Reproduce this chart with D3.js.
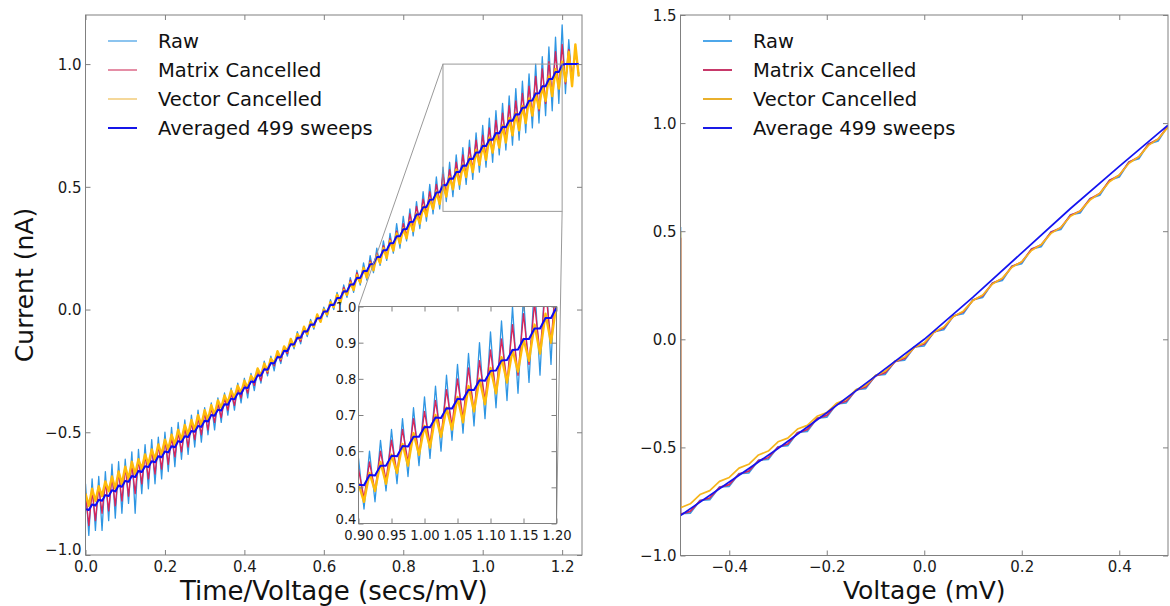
<!DOCTYPE html>
<html lang="en">
<head>
<meta charset="UTF-8">
<title>Sweep cancellation</title>
<script src="https://d3js.org/d3.v7.min.js"></script>
<style>
  body { margin: 0; background: #fff; }
  svg { display: block; font-family: "DejaVu Sans", sans-serif; }
  .legend-text { font-size: 19.5px; fill: #111; }
  .axis-label { font-size: 25px; fill: #111; }
</style>
</head>
<body>
<svg width="1170" height="606"></svg>
<script>
// ---- left panel: current per half sweep period (1/120 s apart) ----
const sweepStep = 1 / 120;
const rawSweep = [
  -0.71, -0.92, -0.69, -0.90, -0.68, -0.90, -0.66, -0.86, -0.63, -0.85,
  -0.62, -0.83, -0.61, -0.79, -0.58, -0.83, -0.57, -0.75, -0.55, -0.73,
  -0.53, -0.71, -0.52, -0.69, -0.50, -0.66, -0.48, -0.64, -0.46, -0.61,
  -0.45, -0.59, -0.43, -0.56, -0.41, -0.54, -0.40, -0.51, -0.38, -0.49,
  -0.36, -0.46, -0.34, -0.43, -0.32, -0.41, -0.30, -0.38, -0.28, -0.36,
  -0.26, -0.33, -0.24, -0.30, -0.21, -0.27, -0.19, -0.25, -0.17, -0.22,
  -0.15, -0.19, -0.12, -0.16, -0.09, -0.14, -0.07, -0.11, -0.04, -0.08,
  -0.02, -0.05, 0.01, -0.03, 0.04, 0.00, 0.07, 0.02, 0.10, 0.05,
  0.13, 0.07, 0.16, 0.10, 0.19, 0.12, 0.22, 0.15, 0.25, 0.18,
  0.28, 0.20, 0.31, 0.23, 0.35, 0.25, 0.38, 0.28, 0.41, 0.30,
  0.44, 0.33, 0.48, 0.36, 0.51, 0.39, 0.54, 0.41, 0.58, 0.44,
  0.60, 0.46, 0.63, 0.49, 0.66, 0.51, 0.69, 0.53, 0.72, 0.56,
  0.75, 0.58, 0.78, 0.60, 0.81, 0.63, 0.84, 0.65, 0.87, 0.67,
  0.90, 0.69, 0.93, 0.72, 0.96, 0.74, 1.00, 0.76, 1.03, 0.79,
  1.07, 0.81, 1.11, 0.84, 1.16, 0.88, 1.10, 0.92, 1.07, 0.95
];
const matrixSweep = [
  -0.75, -0.88, -0.74, -0.86, -0.72, -0.83, -0.70, -0.82, -0.68, -0.80,
  -0.66, -0.78, -0.64, -0.76, -0.63, -0.75, -0.61, -0.71, -0.59, -0.69,
  -0.57, -0.67, -0.55, -0.65, -0.53, -0.63, -0.52, -0.60, -0.50, -0.58,
  -0.48, -0.56, -0.46, -0.53, -0.44, -0.51, -0.42, -0.49, -0.40, -0.46,
  -0.38, -0.44, -0.36, -0.41, -0.34, -0.39, -0.32, -0.36, -0.30, -0.34,
  -0.27, -0.31, -0.25, -0.29, -0.23, -0.26, -0.20, -0.23, -0.18, -0.21,
  -0.16, -0.18, -0.13, -0.15, -0.11, -0.13, -0.08, -0.10, -0.05, -0.07,
  -0.03, -0.04, 0.00, -0.02, 0.03, 0.01, 0.06, 0.04, 0.09, 0.06,
  0.12, 0.09, 0.15, 0.11, 0.17, 0.14, 0.20, 0.17, 0.23, 0.19,
  0.26, 0.22, 0.29, 0.25, 0.32, 0.27, 0.35, 0.30, 0.39, 0.33,
  0.42, 0.36, 0.45, 0.39, 0.48, 0.41, 0.51, 0.44, 0.55, 0.47,
  0.57, 0.49, 0.60, 0.52, 0.63, 0.54, 0.66, 0.57, 0.69, 0.59,
  0.71, 0.62, 0.74, 0.64, 0.77, 0.67, 0.80, 0.69, 0.83, 0.71,
  0.85, 0.74, 0.88, 0.76, 0.91, 0.79, 0.95, 0.81, 0.98, 0.84,
  1.01, 0.87, 1.05, 0.90, 1.08, 0.92, 1.06, 0.94, 1.05, 0.96
];
const vectorSweep = [
  -0.75, -0.80, -0.73, -0.78, -0.72, -0.76, -0.70, -0.74, -0.68, -0.73,
  -0.66, -0.71, -0.64, -0.69, -0.62, -0.67, -0.61, -0.65, -0.59, -0.63,
  -0.57, -0.61, -0.55, -0.59, -0.53, -0.57, -0.51, -0.55, -0.49, -0.53,
  -0.47, -0.51, -0.45, -0.49, -0.43, -0.47, -0.41, -0.45, -0.39, -0.43,
  -0.37, -0.40, -0.35, -0.38, -0.33, -0.36, -0.31, -0.34, -0.29, -0.32,
  -0.27, -0.29, -0.24, -0.27, -0.22, -0.25, -0.20, -0.22, -0.17, -0.20,
  -0.15, -0.17, -0.12, -0.15, -0.10, -0.12, -0.07, -0.10, -0.05, -0.07,
  -0.02, -0.05, 0.00, -0.02, 0.03, 0.01, 0.06, 0.03, 0.08, 0.06,
  0.11, 0.08, 0.14, 0.11, 0.17, 0.13, 0.19, 0.16, 0.22, 0.19,
  0.25, 0.21, 0.28, 0.24, 0.31, 0.27, 0.33, 0.29, 0.36, 0.32,
  0.39, 0.35, 0.42, 0.38, 0.45, 0.41, 0.48, 0.43, 0.51, 0.46,
  0.54, 0.49, 0.57, 0.51, 0.59, 0.54, 0.62, 0.56, 0.65, 0.59,
  0.67, 0.61, 0.70, 0.64, 0.72, 0.66, 0.75, 0.68, 0.78, 0.71,
  0.80, 0.73, 0.83, 0.76, 0.86, 0.79, 0.88, 0.82, 0.91, 0.85,
  0.95, 0.87, 0.98, 0.90, 1.01, 0.93, 1.05, 0.91, 1.08, 0.95
];
const avgSweep = [
  -0.813, -0.817, -0.794, -0.798, -0.775, -0.779, -0.756, -0.760, -0.736, -0.741,
  -0.717, -0.722, -0.698, -0.702, -0.678, -0.682, -0.658, -0.662, -0.638, -0.642,
  -0.618, -0.622, -0.598, -0.602, -0.578, -0.582, -0.557, -0.561, -0.536, -0.540,
  -0.516, -0.519, -0.495, -0.498, -0.474, -0.478, -0.453, -0.456, -0.430, -0.433,
  -0.408, -0.411, -0.386, -0.388, -0.363, -0.366, -0.341, -0.343, -0.318, -0.320,
  -0.293, -0.295, -0.268, -0.270, -0.243, -0.245, -0.218, -0.220, -0.193, -0.195,
  -0.168, -0.169, -0.141, -0.142, -0.115, -0.115, -0.088, -0.089, -0.061, -0.062,
  -0.035, -0.035, -0.008, -0.008, 0.020, 0.019, 0.047, 0.047, 0.075, 0.074,
  0.102, 0.102, 0.130, 0.129, 0.157, 0.157, 0.185, 0.186, 0.214, 0.214,
  0.242, 0.242, 0.270, 0.271, 0.299, 0.299, 0.327, 0.328, 0.357, 0.358,
  0.387, 0.388, 0.417, 0.418, 0.447, 0.448, 0.477, 0.478, 0.507, 0.506,
  0.534, 0.533, 0.560, 0.560, 0.587, 0.586, 0.614, 0.613, 0.640, 0.640,
  0.667, 0.666, 0.693, 0.692, 0.719, 0.718, 0.745, 0.743, 0.770, 0.769,
  0.796, 0.795, 0.822, 0.823, 0.851, 0.852, 0.880, 0.881, 0.910, 0.910,
  0.939, 0.939, 0.968, 0.968, 0.997, 1.000, 1.000, 1.000, 1.000, 1.000
];

// ---- right panel: current against voltage, 0.02 mV apart from -0.5 ----
const ivStart = -0.5, ivStep = 0.02;
const rawIV = [
  -0.807, -0.804, -0.745, -0.742, -0.683, -0.680, -0.621, -0.618, -0.559, -0.556,
  -0.497, -0.492, -0.431, -0.426, -0.365, -0.360, -0.299, -0.294, -0.233, -0.228,
  -0.167, -0.162, -0.101, -0.096, -0.035, -0.030, 0.035, 0.044, 0.109, 0.118,
  0.183, 0.194, 0.261, 0.272, 0.339, 0.350, 0.418, 0.429, 0.497, 0.508,
  0.576, 0.585, 0.651, 0.666, 0.736, 0.751, 0.821, 0.835, 0.904, 0.918, 0.988
];
const matrixIV = [
  -0.809, -0.796, -0.747, -0.734, -0.685, -0.672, -0.623, -0.610, -0.561, -0.548,
  -0.499, -0.484, -0.433, -0.418, -0.367, -0.352, -0.301, -0.286, -0.235, -0.220,
  -0.169, -0.154, -0.103, -0.088, -0.037, -0.022, 0.033, 0.052, 0.107, 0.126,
  0.181, 0.202, 0.259, 0.280, 0.337, 0.358, 0.416, 0.437, 0.495, 0.516,
  0.574, 0.593, 0.649, 0.674, 0.734, 0.759, 0.819, 0.843, 0.902, 0.926, 0.986
];
const vectorIV = [
  -0.779, -0.761, -0.718, -0.700, -0.657, -0.639, -0.596, -0.578, -0.535, -0.517,
  -0.474, -0.457, -0.415, -0.398, -0.356, -0.339, -0.296, -0.278, -0.233, -0.213,
  -0.168, -0.147, -0.102, -0.082, -0.037, -0.016, 0.033, 0.057, 0.106, 0.130,
  0.179, 0.205, 0.256, 0.282, 0.333, 0.359, 0.411, 0.438, 0.490, 0.517,
  0.569, 0.594, 0.644, 0.675, 0.729, 0.760, 0.814, 0.844, 0.897, 0.927, 0.981
];
// first recorded sample (raw, matrix, vector) sits high before the sweep starts
const ivFirst = [0.52, 0.47, 0.50];
const avgVolt = [-0.5, -0.4, -0.3, -0.2, -0.1, 0.0, 0.1, 0.2, 0.3, 0.4, 0.5];
const avgIV = [-0.815, -0.66, -0.505, -0.34, -0.17, 0.0, 0.195, 0.40, 0.605, 0.80, 0.99];

// ---- ticks and labels ----
const leftXTicks = [0, 0.2, 0.4, 0.6, 0.8, 1.0, 1.2];
const leftYTicks = [-1, -0.5, 0, 0.5, 1];
const insetXTicks = [0.90, 0.95, 1.00, 1.05, 1.10, 1.15, 1.20];
const insetYTicks = [0.4, 0.5, 0.6, 0.7, 0.8, 0.9, 1.0];
const rightXTicks = [-0.4, -0.2, 0, 0.2, 0.4];
const rightYTicks = [-1, -0.5, 0, 0.5, 1, 1.5];
const leftLegend = ["Raw", "Matrix Cancelled", "Vector Cancelled", "Averaged 499 sweeps"];
const rightLegend = ["Raw", "Matrix Cancelled", "Vector Cancelled", "Average 499 sweeps"];

const svg = d3.select("svg");
const spineColor = "#808080";

const tSweep = rawSweep.map((_, k) => k * sweepStep);
const vIV = rawIV.map((_, i) => ivStart + i * ivStep);

const xL = d3.scaleLinear().domain([0, 1.25]).range([85.5, 582]);
const yL = d3.scaleLinear().domain([-1, 1.2]).range([555, 15]);
const xI = d3.scaleLinear().domain([0.9, 1.2]).range([358.5, 556.5]);
const yI = d3.scaleLinear().domain([0.4, 1.0]).range([523.5, 306.5]);
const xR = d3.scaleLinear().domain([-0.5, 0.5]).range([680.5, 1168]);
const yR = d3.scaleLinear().domain([-1, 1.5]).range([555.5, 15]);

const sweepSeries = [
  { values: rawSweep, color: "#2f96e3", width: 1.3 },
  { values: matrixSweep, color: "#d9245a", width: 1.4 },
  { values: vectorSweep, color: "#ffbb0a", width: 2.4 },
  { values: avgSweep, color: "#0c0cf5", width: 2 }
];
const legendColorsL = ["#8cc4ef", "#e58ea6", "#f5d89a", "#1515e8"];

const ivSeries = [
  { xs: [ivStart].concat(vIV), values: [ivFirst[0]].concat(rawIV), color: "#3a9de6" },
  { xs: [ivStart].concat(vIV), values: [ivFirst[1]].concat(matrixIV), color: "#d12a60" },
  { xs: [ivStart].concat(vIV), values: [ivFirst[2]].concat(vectorIV), color: "#f6b51c" },
  { xs: avgVolt, values: avgIV, color: "#1414f0" }
];
const legendColorsR = ["#4ea7ea", "#c7396a", "#e9b02c", "#1a1ae6"];

function clipRect(id, x, y) {
  svg.append("defs").append("clipPath").attr("id", id)
    .append("rect")
    .attr("x", x.range()[0]).attr("y", y.range()[1])
    .attr("width", x.range()[1] - x.range()[0])
    .attr("height", y.range()[0] - y.range()[1]);
}

// lowLift: raise the lowest y label a little so it clears the first x label
function drawFrame(g, x, y, xTicks, yTicks, xFmt, yFmt, fontSize, xLabelY, yLabelX, lowLift) {
  const x0 = x.range()[0], x1 = x.range()[1], y0 = y.range()[0], y1 = y.range()[1];
  const styleAxis = a => {
    a.select(".domain").remove();
    a.selectAll("line").attr("stroke", spineColor);
    a.selectAll("text").attr("fill", "#1a1a1a");
    a.attr("font-family", null).attr("font-size", fontSize);
  };
  g.append("g").attr("transform", `translate(0,${y0})`)
    .call(d3.axisBottom(x).tickValues(xTicks).tickFormat(xFmt).tickSizeInner(-5).tickSizeOuter(0).tickPadding(0))
    .call(styleAxis)
    .call(a => a.selectAll("text").attr("y", xLabelY).attr("dy", null));
  g.append("g").attr("transform", `translate(0,${y1})`)
    .call(d3.axisTop(x).tickValues(xTicks).tickFormat("").tickSizeInner(-5).tickSizeOuter(0))
    .call(styleAxis);
  g.append("g").attr("transform", `translate(${x0},0)`)
    .call(d3.axisLeft(y).tickValues(yTicks).tickFormat(yFmt).tickSizeInner(-5).tickSizeOuter(0).tickPadding(0))
    .call(styleAxis)
    .call(a => a.selectAll("text").attr("x", yLabelX).attr("dy", "0.36em")
      .attr("y", d => d === yTicks[0] ? -(lowLift || 0) : 0));
  g.append("g").attr("transform", `translate(${x1},0)`)
    .call(d3.axisRight(y).tickValues(yTicks).tickFormat("").tickSizeInner(-5).tickSizeOuter(0))
    .call(styleAxis);
  g.append("rect")
    .attr("x", x0).attr("y", y1).attr("width", x1 - x0).attr("height", y0 - y1)
    .attr("fill", "none").attr("stroke", spineColor).attr("stroke-width", 1);
}

function drawLegend(g, labels, colors, lineX, textX) {
  const rows = g.selectAll("g.leg").data(labels).join("g")
    .attr("class", "leg")
    .attr("transform", (d, i) => `translate(0,${41 + i * 29})`);
  rows.append("line")
    .attr("x1", lineX).attr("x2", lineX + 29)
    .attr("stroke", (d, i) => colors[i]).attr("stroke-width", 2);
  rows.append("text").attr("class", "legend-text")
    .attr("x", textX).attr("y", 7.2)
    .text(d => d);
}

const fmt1 = d3.format(".1f"), fmt2 = d3.format(".2f");

// ================= left panel =================
clipRect("clipL", xL, yL);
const left = svg.append("g");
const lineL = d3.line().x(d => xL(d[0])).y(d => yL(d[1]));
left.append("g").attr("clip-path", "url(#clipL)")
  .selectAll("path").data(sweepSeries).join("path")
  .attr("d", s => lineL(s.values.map((v, k) => [tSweep[k], v])))
  .attr("fill", "none")
  .attr("stroke", s => s.color)
  .attr("stroke-width", s => s.width)
  .attr("stroke-linejoin", "round");

drawFrame(left, xL, yL, leftXTicks, leftYTicks, fmt1, fmt1, 15, 17, -4, 6);

// zoom box and connectors
left.append("rect")
  .attr("x", xL(0.9)).attr("y", yL(1.0))
  .attr("width", xL(1.2) - xL(0.9)).attr("height", yL(0.4) - yL(1.0))
  .attr("fill", "none").attr("stroke", "#999").attr("stroke-width", 1);
left.append("line")
  .attr("x1", xL(0.9)).attr("y1", yL(1.0)).attr("x2", xI(0.9)).attr("y2", yI(1.0))
  .attr("stroke", "#999").attr("stroke-width", 1);
left.append("line")
  .attr("x1", xL(1.2)).attr("y1", yL(0.4)).attr("x2", xI(1.2)).attr("y2", yI(0.4))
  .attr("stroke", "#999").attr("stroke-width", 1);

// inset
clipRect("clipI", xI, yI);
const inset = svg.append("g");
inset.append("rect")
  .attr("x", xI.range()[0]).attr("y", yI.range()[1])
  .attr("width", xI.range()[1] - xI.range()[0]).attr("height", yI.range()[0] - yI.range()[1])
  .attr("fill", "#fff");
const lineI = d3.line().x(d => xI(d[0])).y(d => yI(d[1]));
inset.append("g").attr("clip-path", "url(#clipI)")
  .selectAll("path").data(sweepSeries).join("path")
  .attr("d", s => lineI(s.values.map((v, k) => [tSweep[k], v])))
  .attr("fill", "none")
  .attr("stroke", s => s.color)
  .attr("stroke-width", s => s.width)
  .attr("stroke-linejoin", "round");
drawFrame(inset, xI, yI, insetXTicks, insetYTicks, fmt2, fmt1, 13.2, 16.5, -2, 4.5);

drawLegend(left, leftLegend, legendColorsL, 108, 158);

left.append("text").attr("class", "axis-label")
  .attr("x", (xL.range()[0] + xL.range()[1]) / 2).attr("y", 600)
  .attr("text-anchor", "middle")
  .style("font-size", "26px")
  .text("Time/Voltage (secs/mV)");
left.append("text").attr("class", "axis-label")
  .attr("transform", `translate(33,${(yL.range()[0] + yL.range()[1]) / 2}) rotate(-90)`)
  .attr("text-anchor", "middle")
  .text("Current (nA)");

// ================= right panel =================
clipRect("clipR", xR, yR);
const right = svg.append("g");
const lineR = d3.line().x(d => xR(d[0])).y(d => yR(d[1]));
right.append("g").attr("clip-path", "url(#clipR)")
  .selectAll("path").data(ivSeries).join("path")
  .attr("d", s => lineR(s.values.map((v, i) => [s.xs[i], v])))
  .attr("fill", "none")
  .attr("stroke", s => s.color)
  .attr("stroke-width", 1.7)
  .attr("stroke-linejoin", "round");

drawFrame(right, xR, yR, rightXTicks, rightYTicks, fmt1, fmt1, 15, 16.5, -4, 0);
drawLegend(right, rightLegend, legendColorsR, 703, 753);

right.append("text").attr("class", "axis-label")
  .attr("x", (xR.range()[0] + xR.range()[1]) / 2).attr("y", 599)
  .attr("text-anchor", "middle")
  .text("Voltage (mV)");
</script>
</body>
</html>
